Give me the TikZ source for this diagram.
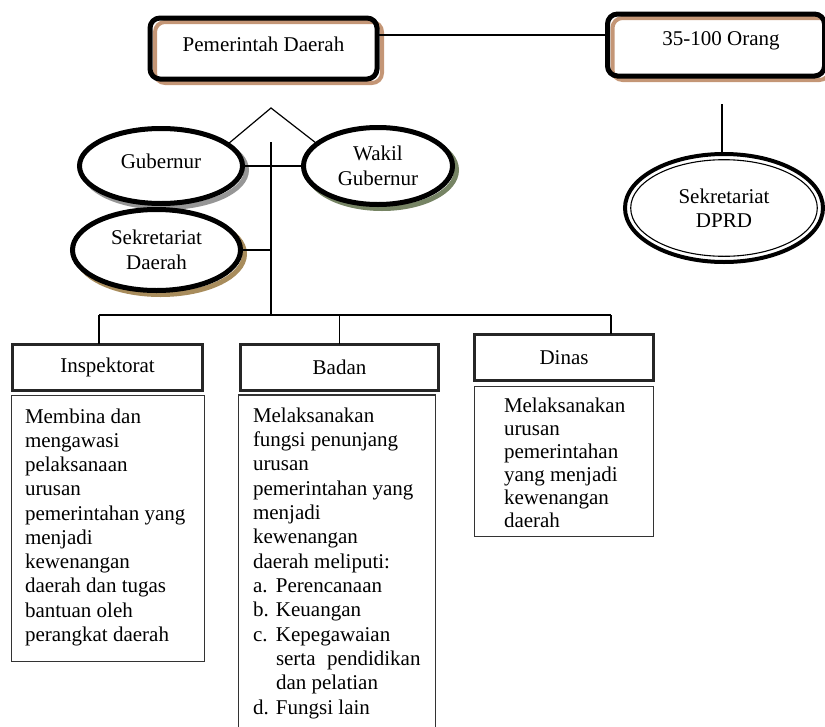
\documentclass[tikz,border=0pt]{standalone}
\usepackage{fontspec}
\setmainfont{Liberation Serif}
\usetikzlibrary{shapes.geometric,calc,backgrounds}

\definecolor{shadetan}{RGB}{196,150,118}
\definecolor{gubshade}{RGB}{150,150,150}
\definecolor{wakshade}{RGB}{118,132,100}
\definecolor{sekshade}{RGB}{168,140,92}

% raise a text without changing the box that TikZ centres
\newcommand\lifted[2]{\raisebox{#1}[\height][\depth]{#2}}

\tikzset{
  every node/.style={inner sep=0pt, outer sep=0pt, font=\fontsize{21}{24.4}\selectfont},
  topbox/.style={draw=black, line width=5pt, rounded corners=10pt},
  topshade/.style={draw=shadetan, line width=4pt, rounded corners=10pt},
  oval/.style={ellipse, draw=black, fill=white, line width=5pt, align=center},
  unitbox/.style={draw=black!85, line width=2.6pt, fill=white},
  descbox/.style={draw=black!80, line width=1.2pt},
  conn/.style={line width=1.5pt},
}

\begin{document}
\begin{tikzpicture}[x=1pt,y=-1pt]
\useasboundingbox (0,0) rectangle (825,726);
\clip (0,0) rectangle (825,726);

% top row
\node[topbox, minimum width=227pt, minimum height=61pt] (pem) at (263.5,48.5)
  {\lifted{4pt}{Pemerintah Daerah}};
\node[topbox, minimum width=217pt, minimum height=62pt] (orang) at (716,45)
  {\lifted{4pt}{\hspace*{10pt}35-100 Orang}};
\coordinate (link) at (500,35);
\draw[conn] (pem.east |- link) -- (orang.west |- link);

% leadership ovals
\node[oval, minimum width=163pt, minimum height=75pt] (gub) at (161,166)
  {\lifted{5pt}{Gubernur}};
\node[oval, minimum width=149pt, minimum height=77pt] (wak) at (378,166)
  {Wakil\\Gubernur};
\node[oval, minimum width=168pt, minimum height=81pt] (sek) at (156.5,250)
  {Sekretariat\\Daerah};

% DPRD secretariat (double outline)
\node[ellipse, draw=black, line width=4pt, minimum width=198pt, minimum height=108pt, align=center]
  (dprd) at (724,208) {Sekretariat\\DPRD};
\draw[line width=1.1pt] (dprd.center) ellipse [x radius=93.3pt, y radius=48.3pt];
\coordinate (dp0) at (722,104);
\draw[conn] (dp0) -- (dp0 |- dprd.north);

% shadows
\begin{scope}[on background layer]
  \draw[topshade] ($(pem.south west)+(5,4)$) rectangle ($(pem.north east)+(5,4)$);
  \draw[topshade] ($(orang.south west)+(5,4)$) rectangle ($(orang.north east)+(5,4)$);
  \draw[draw=gubshade, line width=5pt] ($(gub.center)+(4,4)$) ellipse [x radius=81.5pt, y radius=37.5pt];
  \draw[draw=wakshade, line width=5pt] ($(wak.center)+(4,4)$) ellipse [x radius=74.5pt, y radius=38.5pt];
  \draw[draw=sekshade, line width=5pt] ($(sek.center)+(4,4)$) ellipse [x radius=84pt, y radius=40.5pt];
\end{scope}

% connectors among the leadership
\coordinate (apex) at (271,108);
\coordinate (trunk) at (271,142);
\coordinate (busL) at (99,315);
\coordinate (busR) at (611,315);
\draw[line width=1.2pt] (gub.18) -- (apex) -- (wak.160);
\draw[conn] (gub.east) -- (wak.west);
\draw[conn] (trunk) -- (trunk |- busL);
\draw[conn] (sek.east) -- (sek.east -| trunk);

% units
\node[unitbox, minimum width=190.4pt, minimum height=46.4pt] (insp) at (107.5,367.5) {Inspektorat};
\node[unitbox, minimum width=198.4pt, minimum height=46.4pt] (badan) at (339.5,367.5) {Badan};
\node[unitbox, minimum width=179.4pt, minimum height=46.4pt] (dinas) at (564,357.5) {Dinas};

\draw[conn] (busL) -- (busR);
\draw[conn] (busL) -- (busL |- insp.north);
\draw[conn] (badan.north |- busL) -- (badan.north);
\draw[conn] (busR) -- (busR |- dinas.north);

% descriptions
\node[descbox, minimum width=192.8pt, minimum height=265.8pt] (inspd) at (108,528.5) {};
\node[descbox, minimum width=196.8pt, minimum height=370pt] (badand) at (337,580) {};
\node[descbox, minimum width=178.8pt, minimum height=149.8pt] (dinasd) at (564,461.5) {};

\node[anchor=base west, font=\fontsize{21}{24.25}\selectfont] (inspt) at (25,423)
  {\parbox[t]{178pt}{Membina dan\\mengawasi\\pelaksanaan\\urusan\\pemerintahan yang\\menjadi\\kewenangan\\daerah dan tugas\\bantuan oleh\\perangkat daerah}};
\node[anchor=base west, font=\fontsize{21}{24.35}\selectfont] (badant) at (253,422)
  {\parbox[t]{180pt}{Melaksanakan\\fungsi penunjang\\urusan\\pemerintahan yang\\menjadi\\kewenangan\\daerah meliputi:\\%
   \makebox[23pt][l]{a.}Perencanaan\\\makebox[23pt][l]{b.}Keuangan\\\makebox[23pt][l]{c.}Kepegawaian\\%
   \hspace*{23pt}serta\hspace{0.3em} pendidikan\\\hspace*{23pt}dan pelatian\\\makebox[23pt][l]{d.}Fungsi lain}};
\node[anchor=base west, font=\fontsize{21}{23}\selectfont] (dinast) at (504,412)
  {\parbox[t]{150pt}{Melaksanakan\\urusan\\pemerintahan\\yang menjadi\\kewenangan\\daerah}};
\end{tikzpicture}
\end{document}
